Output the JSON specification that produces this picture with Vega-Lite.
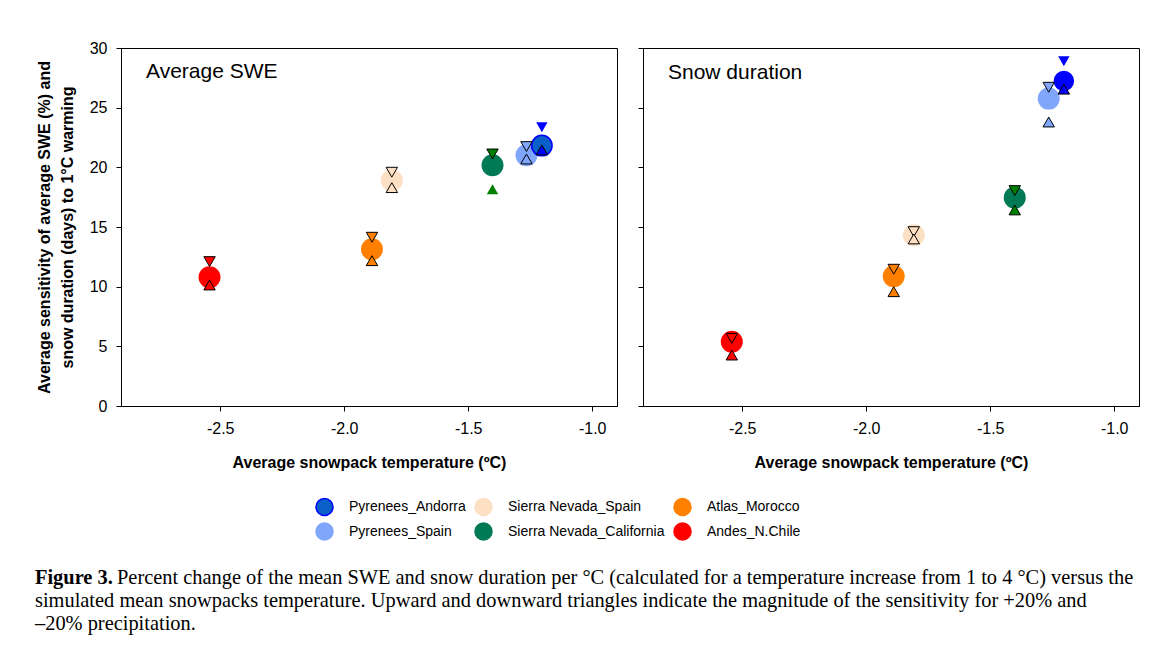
{
  "$schema": "https://vega.github.io/schema/vega-lite/v6.json",
  "padding": {"left": 35, "top": 39, "right": 0, "bottom": 0},
  "autosize": {"type": "pad"},
  "background": "white",
  "config": {
    "font": "Liberation Sans",
    "view": {"stroke": "black", "strokeWidth": 1},
    "axis": {
      "domainColor": "black", "tickColor": "black", "labelColor": "black", "titleColor": "black",
      "labelFont": "Liberation Sans", "titleFont": "Liberation Sans",
      "labelFontSize": 16, "titleFontSize": 16, "titleFontWeight": "bold",
      "tickSize": 5, "grid": false, "domainWidth": 1, "tickWidth": 1
    },
    "legend": {"labelFont": "Liberation Sans", "labelColor": "black"}
  },
  "datasets": {
    "pts": [
      {"panel": "Average SWE", "site": "Andes_N.Chile", "temp": -2.543, "mid": 10.79, "minus20": 12.1, "plus20": 10.14},
      {"panel": "Average SWE", "site": "Atlas_Morocco", "temp": -1.888, "mid": 13.13, "minus20": 14.14, "plus20": 12.18},
      {"panel": "Average SWE", "site": "Sierra Nevada_Spain", "temp": -1.808, "mid": 18.89, "minus20": 19.59, "plus20": 18.3},
      {"panel": "Average SWE", "site": "Sierra Nevada_California", "temp": -1.402, "mid": 20.17, "minus20": 21.12, "plus20": 18.16},
      {"panel": "Average SWE", "site": "Pyrenees_Spain", "temp": -1.265, "mid": 21.01, "minus20": 21.74, "plus20": 20.7},
      {"panel": "Average SWE", "site": "Pyrenees_Andorra", "temp": -1.203, "mid": 21.82, "minus20": 23.36, "plus20": 21.46},
      {"panel": "Snow duration", "site": "Andes_N.Chile", "temp": -2.542, "mid": 5.39, "minus20": 5.67, "plus20": 4.27},
      {"panel": "Snow duration", "site": "Atlas_Morocco", "temp": -1.889, "mid": 10.87, "minus20": 11.46, "plus20": 9.58},
      {"panel": "Snow duration", "site": "Sierra Nevada_Spain", "temp": -1.808, "mid": 14.31, "minus20": 14.61, "plus20": 14.0},
      {"panel": "Snow duration", "site": "Sierra Nevada_California", "temp": -1.401, "mid": 17.46, "minus20": 18.05, "plus20": 16.43},
      {"panel": "Snow duration", "site": "Pyrenees_Andorra", "temp": -1.203, "mid": 27.24, "minus20": 28.89, "plus20": 26.55},
      {"panel": "Snow duration", "site": "Pyrenees_Spain", "temp": -1.264, "mid": 25.76, "minus20": 26.71, "plus20": 23.8}
    ],
    "caption": [
      {"line": 1, "part": "label", "text": "Figure 3."},
      {"line": 1, "part": "body", "text": "Percent change of the mean SWE and snow duration per °C (calculated for a temperature increase from 1 to 4 °C) versus the"},
      {"line": 2, "part": "body", "text": "simulated mean snowpacks temperature. Upward and downward triangles indicate the magnitude of the sensitivity for +20% and"},
      {"line": 3, "part": "body", "text": "–20% precipitation."}
    ]
  },
  "spacing": 95,
  "vconcat": [
    {
      "spacing": 19,
      "hconcat": [
        {
          "width": 496, "height": 358,
          "title": {"text": "Average SWE", "anchor": "start", "frame": "group", "orient": "top", "offset": -30, "dx": 25, "dy": 29, "fontSize": 21, "fontWeight": "normal", "font": "Liberation Sans", "color": "black", "baseline": "alphabetic"},
          "data": {"name": "pts"},
          "transform": [{"filter": "datum.panel === 'Average SWE'"}],
          "encoding": {
            "x": {"field": "temp", "type": "quantitative", "scale": {"domain": [-2.9, -0.9], "nice": false, "zero": false},
                  "axis": {"values": [-2.5, -2, -1.5, -1], "format": ".1f", "labelExpr": "replace(datum.label, '−', '-')", "labelPadding": 9, "titlePadding": 18, "title": "Average snowpack temperature (ºC)"}}
          },
          "layer": [
            {
              "mark": {"type": "point", "shape": "circle", "filled": true, "size": 420, "opacity": 1, "strokeWidth": 1.5},
              "encoding": {
                "y": {"field": "mid", "type": "quantitative", "scale": {"domain": [0, 30], "nice": false},
                      "axis": {"values": [0, 5, 10, 15, 20, 25, 30], "labelPadding": 9, "titlePadding": 14, "titleLineHeight": 23,
                               "title": ["Average sensitivity of average SWE (%) and", "snow duration (days) to 1°C warming"]}},
                "color": {"field": "site", "type": "nominal",
                  "scale": {"domain": ["Pyrenees_Andorra", "Pyrenees_Spain", "Sierra Nevada_Spain", "Sierra Nevada_California", "Atlas_Morocco", "Andes_N.Chile"],
                            "range": ["#0a60c8", "#80a6fb", "#fde0c4", "#007a55", "#ff8000", "#ff0000"]},
                  "legend": {"orient": "none", "legendX": 194, "legendY": 449, "columns": 3, "title": null, "symbolType": "circle", "symbolSize": 290,
                             "labelFontSize": 14, "rowPadding": 0, "columnPadding": 5, "labelOffset": 15,
                             "encode": {"symbols": {"update": {"stroke": {"signal": "datum.value === 'Pyrenees_Andorra' ? '#0000ff' : 'transparent'"}, "strokeWidth": {"value": 1.5}}}}}},
                "stroke": {"field": "site", "type": "nominal",
                  "scale": {"domain": ["Pyrenees_Andorra", "Pyrenees_Spain", "Sierra Nevada_Spain", "Sierra Nevada_California", "Atlas_Morocco", "Andes_N.Chile"],
                            "range": ["#0000ff", "#80a6fb", "#fde0c4", "#007a55", "#ff8000", "#ff0000"]},
                  "legend": null}
              }
            },
            {
              "mark": {"type": "point", "shape": "triangle-down", "filled": true, "size": 130, "opacity": 1, "strokeWidth": 1},
              "encoding": {
                "y": {"field": "minus20", "type": "quantitative"},
                "fill": {"field": "site", "type": "nominal",
                  "scale": {"domain": ["Pyrenees_Andorra", "Pyrenees_Spain", "Sierra Nevada_Spain", "Sierra Nevada_California", "Atlas_Morocco", "Andes_N.Chile"],
                            "range": ["#0000ff", "#80a6fb", "#fde0c4", "#008000", "#ff8000", "#ff0000"]},
                  "legend": null},
                "stroke": {"condition": {"test": "datum.site === 'Pyrenees_Andorra'", "value": "transparent"}, "value": "black"}
              }
            },
            {
              "mark": {"type": "point", "shape": "triangle-up", "filled": true, "size": 130, "opacity": 1, "strokeWidth": 1},
              "encoding": {
                "y": {"field": "plus20", "type": "quantitative"},
                "fill": {"field": "site", "type": "nominal", "legend": null},
                "stroke": {"condition": {"test": "datum.site === 'Sierra Nevada_California'", "value": "transparent"}, "value": "black"}
              }
            }
          ]
        },
        {
          "width": 496, "height": 358,
          "title": {"text": "Snow duration", "anchor": "start", "frame": "group", "orient": "top", "offset": -30, "dx": 25, "dy": 22, "fontSize": 21, "fontWeight": "normal", "font": "Liberation Sans", "color": "black", "baseline": "alphabetic"},
          "data": {"name": "pts"},
          "transform": [{"filter": "datum.panel === 'Snow duration'"}],
          "encoding": {
            "x": {"field": "temp", "type": "quantitative", "scale": {"domain": [-2.9, -0.9], "nice": false, "zero": false},
                  "axis": {"values": [-2.5, -2, -1.5, -1], "format": ".1f", "labelExpr": "replace(datum.label, '−', '-')", "labelPadding": 9, "titlePadding": 18, "title": "Average snowpack temperature (ºC)"}}
          },
          "layer": [
            {
              "transform": [{"filter": "datum.site === 'Pyrenees_Andorra'"}],
              "mark": {"type": "point", "shape": "circle", "filled": true, "size": 420, "opacity": 1, "fill": "#0000ff"},
              "encoding": {
                "y": {"field": "mid", "type": "quantitative", "scale": {"domain": [0, 30], "nice": false},
                      "axis": {"values": [0, 5, 10, 15, 20, 25, 30], "labels": false, "title": null}}
              }
            },
            {
              "transform": [{"filter": "datum.site !== 'Pyrenees_Andorra'"}],
              "mark": {"type": "point", "shape": "circle", "filled": true, "size": 420, "opacity": 1, "strokeWidth": 1.5},
              "encoding": {
                "y": {"field": "mid", "type": "quantitative"},
                "color": {"field": "site", "type": "nominal"},
                "stroke": {"field": "site", "type": "nominal", "legend": null}
              }
            },
            {
              "mark": {"type": "point", "shape": "triangle-down", "filled": true, "size": 130, "opacity": 1, "strokeWidth": 1},
              "encoding": {
                "y": {"field": "minus20", "type": "quantitative"},
                "fill": {"field": "site", "type": "nominal", "legend": null},
                "stroke": {"condition": {"test": "datum.site === 'Pyrenees_Andorra'", "value": "transparent"}, "value": "black"}
              }
            },
            {
              "mark": {"type": "point", "shape": "triangle-up", "filled": true, "size": 130, "opacity": 1, "strokeWidth": 1},
              "encoding": {
                "y": {"field": "plus20", "type": "quantitative"},
                "fill": {"field": "site", "type": "nominal", "legend": null},
                "stroke": {"value": "black"}
              }
            }
          ]
        }
      ]
    },
    {
      "width": 1018, "height": 70,
      "view": {"stroke": null},
      "data": {"name": "caption"},
      "encoding": {
        "y": {"field": "line", "type": "ordinal", "axis": null},
        "text": {"field": "text"}
      },
      "layer": [
        {
          "transform": [{"filter": "datum.part === 'label'"}],
          "mark": {"type": "text", "align": "left", "baseline": "middle", "font": "Liberation Serif", "fontSize": 20.4, "fontWeight": "bold", "color": "black", "dx": -86},
          "encoding": {"x": {"value": 0}}
        },
        {
          "transform": [{"filter": "datum.part === 'body' && datum.line === 1"}],
          "mark": {"type": "text", "align": "left", "baseline": "middle", "font": "Liberation Serif", "fontSize": 20.4, "color": "black", "dx": -4},
          "encoding": {"x": {"value": 0}}
        },
        {
          "transform": [{"filter": "datum.part === 'body' && datum.line > 1"}],
          "mark": {"type": "text", "align": "left", "baseline": "middle", "font": "Liberation Serif", "fontSize": 20.4, "color": "black", "dx": -86},
          "encoding": {"x": {"value": 0}}
        }
      ]
    }
  ]
}
